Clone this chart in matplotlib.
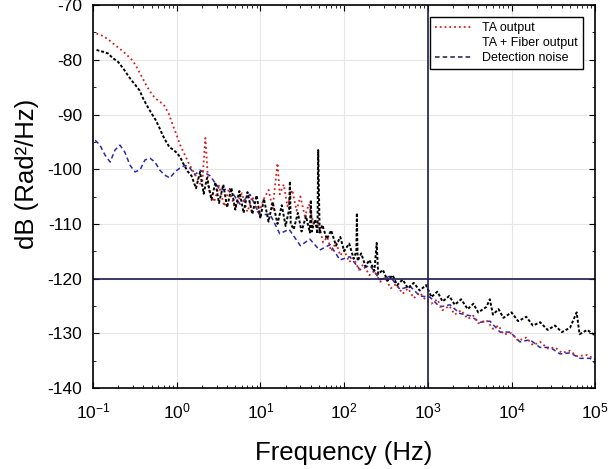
import numpy as np
import matplotlib
matplotlib.use("Agg")
import matplotlib.pyplot as plt
from matplotlib.lines import Line2D

plt.rcParams['font.family'] = ['Liberation Sans', 'DejaVu Sans']
plt.rcParams['axes.unicode_minus'] = False

# --- TA + Fiber output (black) ---
fiber_f = [0.11, 0.13, 0.15, 0.17, 0.20, 0.23, 0.26, 0.29, 0.32, 0.36, 0.40, 0.45, 0.50, 0.56,
           0.62, 0.68, 0.75, 0.82, 0.90, 1.0, 1.1, 1.2, 1.35, 1.5, 1.7, 1.9, 2.1, 2.3, 2.6, 2.9,
           3.2, 3.6, 4.0, 4.5, 5.0, 5.6, 6.3, 7.0, 8.0, 9.0, 10, 11, 12.5, 14, 16, 18, 20, 22,
           22.5, 23, 25, 28, 31, 35, 39, 40, 41, 45, 48, 49, 51, 55, 62, 70, 80, 90, 100, 115,
           130, 140, 142, 145, 160, 180, 200, 230, 245, 255, 290, 330, 380, 430, 500, 580, 680,
           800, 950, 1050, 1100, 1300, 1500, 1800, 2100, 2500, 3000, 3500, 4000, 5000, 5500,
           6000, 7000, 8000, 10000, 12000, 15000, 18000, 22000, 27000, 33000, 40000, 50000,
           60000, 65000, 80000, 100000]
fiber_db = [-78.2, -78.5, -78.8, -79.6, -80.4, -81.6, -82.8, -83.8, -84.6, -85.6, -87.2, -88.6,
            -89.8, -91.0, -92.4, -93.8, -95.0, -96.0, -96.4, -97.0, -97.8, -99.0, -100.4, -101.2,
            -103.5, -100.5, -104.5, -101.6, -105.6, -102.4, -106.2, -102.8, -107.0, -103.4,
            -107.4, -104.0, -108.0, -104.2, -108.2, -104.8, -109.0, -105.4, -109.6, -106.0,
            -110.0, -106.6, -110.4, -107.4, -102.2, -110.0, -111.0, -108.0, -111.4, -108.6,
            -111.6, -105.6, -111.4, -109.2, -111.8, -96.5, -111.6, -110.2, -112.8, -111.2,
            -114.0, -112.4, -115.0, -113.6, -116.4, -115.0, -108.0, -116.8, -115.4, -117.8,
            -116.6, -118.6, -113.5, -119.2, -118.4, -120.4, -119.4, -121.2, -120.2, -121.8,
            -120.8, -122.2, -121.2, -122.6, -123.4, -122.4, -124.2, -123.2, -124.8, -123.8,
            -125.6, -124.6, -126.2, -125.2, -123.8, -126.6, -125.6, -127.2, -126.2, -127.8,
            -127.0, -128.6, -128.0, -129.4, -128.6, -129.8, -129.0, -126.2, -130.2, -129.4,
            -130.4]

# --- TA output (red) ---
ta_f = [0.11, 0.13, 0.15, 0.18, 0.21, 0.25, 0.30, 0.34, 0.38, 0.43, 0.48, 0.55, 0.62, 0.70,
        0.80, 0.90, 1.0, 1.1, 1.25, 1.4, 1.6, 1.8, 2.0, 2.2, 2.4, 2.8, 3.2, 3.7, 4.2, 5.0, 6.0,
        7.0, 8.0, 9.5, 11, 12.5, 14, 16, 17, 19, 21, 24, 27, 30, 34, 38, 43, 50, 56, 63, 70,
        80, 90, 100, 115, 130, 150, 170, 200, 230, 270, 310, 360, 420, 500, 580, 680, 800, 950,
        1100, 1300, 1500, 1800, 2100, 2500, 3000, 3500, 4000, 5000, 6000, 7000, 8000, 10000,
        12000, 15000, 18000, 22000, 27000, 33000, 40000, 50000, 60000, 80000, 100000]
ta_db = [-75.2, -75.6, -76.2, -77.2, -78.0, -79.0, -80.2, -81.6, -83.0, -84.6, -85.8, -87.0,
         -87.6, -88.2, -89.8, -92.0, -93.8, -95.6, -97.4, -99.0, -100.6, -102.0, -103.2, -94.3,
         -103.6, -106.0, -103.0, -106.8, -103.6, -107.2, -104.4, -107.8, -105.0, -108.2,
         -105.4, -103.8, -107.2, -98.9, -104.6, -102.8, -106.8, -103.8, -107.6, -105.0,
         -108.6, -106.4, -110.0, -110.0, -113.4, -112.4, -115.0, -113.4, -115.8, -114.8,
         -117.0, -116.2, -118.4, -117.4, -119.4, -118.6, -120.6, -119.8, -121.8, -121.0,
         -122.8, -121.8, -123.6, -122.6, -124.0, -124.6, -123.8, -125.8, -125.0, -126.6,
         -125.8, -127.4, -126.8, -128.2, -127.6, -129.2, -128.6, -130.2, -130.0, -131.4,
         -130.8, -132.2, -131.6, -132.8, -132.6, -133.6, -133.2, -134.2, -134.0, -134.8]

# --- Detection noise (blue) ---
det_f = [0.106, 0.121, 0.139, 0.16, 0.183, 0.21, 0.24, 0.277, 0.318, 0.365, 0.418, 0.48, 0.55,
         0.63, 0.72, 0.83, 0.95, 1.09, 1.26, 1.44, 1.65, 1.9, 2.5, 3.3, 4.3, 5.7, 7.5, 9.8, 13,
         17, 22, 30, 39, 51, 68, 89, 117, 155, 203, 268, 353, 465, 610, 805, 1060, 1390, 1840,
         2420, 3190, 4200, 5530, 7290, 9600, 12600, 16600, 21900, 28900, 38000, 50000, 66000,
         87000, 100000]
det_db = [-94.7, -95.6, -97.4, -98.7, -96.5, -95.6, -96.9, -99.3, -100.5, -100.1, -98.3, -98.0,
          -98.7, -100.2, -101.1, -101.6, -100.5, -99.8, -99.3, -99.8, -101.0, -100.2, -101.2,
          -103.8, -103.6, -106.4, -104.6, -108.4, -108.2, -111.8, -111.0, -114.0, -112.8,
          -114.8, -113.8, -116.6, -116.0, -118.4, -117.6, -120.2, -119.6, -122.0, -121.4,
          -123.2, -123.4, -125.2, -124.8, -126.4, -126.8, -128.0, -127.8, -129.8, -129.8,
          -131.6, -131.2, -132.6, -132.6, -133.8, -133.6, -134.6, -134.6, -135.5]

fig = plt.figure(figsize=(6.08, 4.69), dpi=100)
ax = fig.add_axes([0.153, 0.173, 0.826, 0.816])

ax.grid(True, which='major', color='#e6e6e6', linewidth=0.8)
ax.set_axisbelow(True)

ax.plot(det_f, det_db, color='#2a2aa8', linestyle=(0, (3, 2)), linewidth=1.1)
ax.plot(ta_f, ta_db, color='#d02020', linestyle=':', linewidth=1.3)
ax.plot(fiber_f, fiber_db, color='black', linestyle=(0, (1.5, 1)), linewidth=1.4)

ax.axhline(-120, color='#1c1c50', linewidth=1.2)
ax.axvline(1000, color='#1c1c50', linewidth=1.2)

ax.set_xscale('log')
ax.set_xlim(0.1, 1e5)
ax.set_ylim(-140, -70)
ax.set_yticks(np.arange(-140, -69, 10))
ax.set_yticks(np.arange(-135, -70, 10), minor=True)
ax.tick_params(which='both', direction='in', top=True, right=True, labelsize=12.5)
ax.tick_params(axis='x', which='major', pad=10)
ax.tick_params(axis='y', which='major', pad=8)
ax.tick_params(which='major', length=4)
ax.tick_params(which='minor', length=2.5)
for s in ax.spines.values():
    s.set_linewidth(1.2)

ax.set_xlabel('Frequency (Hz)', fontsize=18.5)
ax.set_ylabel('dB (Rad²/Hz)', fontsize=18.5)
ax.xaxis.set_label_coords(0.5, -0.14)
ax.yaxis.set_label_coords(-0.108, 0.56)

handles = [Line2D([], [], color='#d02020', linestyle=':', linewidth=1.3),
           Line2D([], [], color='white', linewidth=1.0),
           Line2D([], [], color='#1c1c50', linestyle=(0, (3, 2)), linewidth=1.1)]
leg = ax.legend(handles, ['TA output', 'TA + Fiber output', 'Detection noise'],
                loc='upper right', bbox_to_anchor=(0.976, 0.969), fontsize=9,
                fancybox=False, framealpha=1, edgecolor='black', borderpad=0.4,
                handlelength=3, labelspacing=0.25, borderaxespad=0)
leg.get_frame().set_linewidth(1.0)

fig.savefig('out.png', dpi=100)
